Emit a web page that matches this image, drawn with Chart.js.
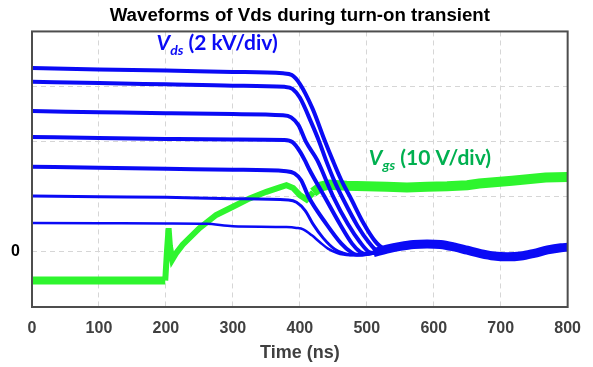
<!DOCTYPE html>
<html>
<head>
<meta charset="utf-8">
<script src="https://cdn.jsdelivr.net/npm/chart.js@4.4.1/dist/chart.umd.min.js"></script>
<style>
  html, body { margin: 0; padding: 0; background: #fff; }
  #wrap { width: 593px; height: 367px; }
</style>
</head>
<body>
<div id="wrap"><canvas id="chart" width="593" height="367"></canvas></div>
<script>
// time in ns, Vds in kV (2 kV/div), Vgs in V (10 V/div)
const vds1 = [[0, 6.67], [100, 6.62], [200, 6.58], [300, 6.53], [375, 6.48], [388, 6.42], [400, 6.1], [419, 5.2], [437, 4.05], [449, 3.33], [462, 2.6], [475, 2.0], [496, 1.0], [512, 0.4], [525, 0.12], [535, 0.08]];
const vds2 = [[0, 6.17], [100, 6.13], [200, 6.08], [300, 6.03], [377, 5.99], [389, 5.92], [400, 5.6], [417, 4.7], [429, 4.0], [439, 3.33], [452, 2.55], [465, 1.9], [486, 0.95], [503, 0.35], [515, 0.05], [525, 0.02]];
const vds3 = [[0, 5.11], [100, 5.07], [200, 5.03], [300, 5.0], [375, 4.96], [387, 4.88], [398, 4.6], [409, 4.0], [426, 3.33], [450, 2.0], [472, 1.0], [490, 0.35], [503, 0.0], [510, -0.04]];
const vds4 = [[0, 4.17], [100, 4.13], [200, 4.1], [300, 4.08], [377, 4.06], [389, 3.98], [400, 3.65], [408, 3.3], [414, 3.0], [437, 2.0], [460, 1.0], [478, 0.3], [490, 0.0], [498, -0.08]];
const vds5 = [[0, 3.09], [100, 3.05], [200, 3.02], [300, 2.98], [380, 2.93], [392, 2.85], [402, 2.6], [413, 2.0], [440, 1.0], [462, 0.3], [476, 0.0], [485, -0.1]];
const vds6 = [[0, 2.03], [100, 2.0], [200, 1.98], [300, 1.93], [383, 1.88], [395, 1.8], [408, 1.5], [420, 1.0], [435, 0.5], [452, 0.1], [465, -0.05], [475, -0.1]];
const vds7 = [[0, 1.05], [100, 1.04], [200, 1.03], [260, 1.02], [300, 0.93], [380, 0.9], [395, 0.87], [405, 0.82], [418, 0.6], [430, 0.35], [442, 0.12], [455, -0.03], [465, -0.1]];
const vdsTail = [[475, -0.12], [490, -0.1], [510, -0.03], [530, 0.1], [550, 0.2], [570, 0.27], [590, 0.29], [610, 0.27], [630, 0.18], [650, 0.06], [670, -0.06], [690, -0.15], [710, -0.18], [730, -0.15], [750, -0.05], [770, 0.07], [790, 0.15], [800, 0.17]];
const vgs = [[0, -5.2], [199, -5.2], [201.5, 0], [204, 4.3], [206, 1], [209.5, -1.4], [215, -0.3], [225, 1.3], [250, 4.3], [275, 6.7], [300, 8.2], [325, 9.7], [350, 10.9], [370, 11.7], [380, 12.1], [390, 11.6], [400, 10.3], [410, 9.5], [420, 10.8], [432, 11.9], [444, 12.2], [470, 12.0], [500, 11.9], [530, 11.8], [560, 11.7], [590, 11.8], [620, 11.9], [650, 12.1], [668, 12.4], [717, 12.9], [767, 13.5], [800, 13.6]];

const xTicks = [0, 100, 200, 300, 400, 500, 600, 700, 800];
const FONT = '"Liberation Sans", Arial, sans-serif';
const LABEL_FONT = 'Lato, "Open Sans", sans-serif';
const BLUE = '#0a0af5';
const GREEN = '#2ef52e';

function toXY(points) {
  return points.map(([x, y]) => ({ x, y }));
}

function withTail(points) {
  const last = points[points.length - 1][0];
  return toXY(points.concat(vdsTail.filter(p => p[0] > last)));
}

function vdsDataset(points, width) {
  return {
    data: withTail(points),
    yAxisID: 'y',
    borderColor: BLUE,
    borderWidth: width,
    pointRadius: 0,
    cubicInterpolationMode: 'monotone',
    order: 0
  };
}

// noisy gate trace looks thicker when flat
function vgsWidth(ctx) {
  const x = ctx.p0.parsed.x;
  if (x < 199) return 8;
  if (x < 420) return 6;
  return 10;
}

// chart frame on all four sides
const framePlugin = {
  id: 'frame',
  afterDraw(chart) {
    const { ctx, chartArea: a } = chart;
    ctx.save();
    ctx.strokeStyle = '#4d4d4d';
    ctx.lineWidth = 2;
    ctx.strokeRect(a.left, a.top, a.right - a.left, a.bottom - a.top);
    ctx.restore();
  }
};

function drawSubLabel(ctx, x, y, sub, rest, color) {
  ctx.fillStyle = color;
  ctx.textBaseline = 'alphabetic';
  ctx.textAlign = 'left';
  ctx.font = 'italic bold 21px ' + LABEL_FONT;
  ctx.fillText('V', x, y);
  let cx = x + ctx.measureText('V').width;
  ctx.font = 'italic bold 14px ' + LABEL_FONT;
  ctx.fillText(sub, cx, y + 5);
  cx += ctx.measureText(sub).width;
  ctx.font = 'bold 21px ' + LABEL_FONT;
  ctx.fillText(rest, cx, y);
}

const labelPlugin = {
  id: 'waveLabels',
  afterDraw(chart) {
    const { ctx, scales } = chart;
    ctx.save();
    drawSubLabel(ctx, scales.x.getPixelForValue(186), scales.y.getPixelForValue(7.32), 'ds', ' (2 kV/div)', BLUE);
    drawSubLabel(ctx, scales.x.getPixelForValue(503), scales.y.getPixelForValue(3.15), 'gs', ' (10 V/div)', '#00b050');
    ctx.restore();
  }
};

const gridColor = '#d6d6d6';
const tickFont = { family: FONT, size: 16, weight: 'bold' };

new Chart(document.getElementById('chart'), {
  type: 'line',
  data: {
    datasets: [
      { data: toXY(vgs), yAxisID: 'y2', borderColor: GREEN, borderWidth: 7, segment: { borderWidth: vgsWidth }, pointRadius: 0, order: 1 },
      { data: toXY(vdsTail.filter(p => p[0] >= 510)), yAxisID: 'y', borderColor: BLUE, borderWidth: 9, pointRadius: 0, cubicInterpolationMode: 'monotone', order: 0 },
      vdsDataset(vds1, 4),
      vdsDataset(vds2, 4),
      vdsDataset(vds3, 4),
      vdsDataset(vds4, 4),
      vdsDataset(vds5, 4),
      vdsDataset(vds6, 3),
      vdsDataset(vds7, 2.5)
    ]
  },
  options: {
    responsive: false,
    animation: false,
    events: [],
    layout: { padding: { left: 0, right: 22, top: 0, bottom: 0 } },
    plugins: {
      legend: { display: false },
      tooltip: { enabled: false },
      title: {
        display: true,
        fullSize: false,
        text: 'Waveforms of Vds during turn-on transient',
        color: '#000',
        font: { family: FONT, size: 18.7, weight: 'bold' },
        padding: { top: 5, bottom: 4 }
      }
    },
    scales: {
      x: {
        type: 'linear',
        min: 0,
        max: 800,
        afterBuildTicks: scale => { scale.ticks = xTicks.map(v => ({ value: v })); },
        ticks: { color: '#404040', font: tickFont, padding: 12, maxRotation: 0 },
        grid: { color: gridColor, drawTicks: false },
        border: { display: false, dash: [5, 4] },
        title: { display: true, text: 'Time (ns)', color: '#404040', font: { family: FONT, size: 18, weight: 'bold' }, padding: { top: 0, bottom: 3 } },
        afterFit: scale => { scale.height = 60; }
      },
      y: {
        min: -2,
        max: 8,
        ticks: { stepSize: 2, color: '#000', font: tickFont, padding: 12, callback: v => (v === 0 ? '0' : '') },
        grid: { color: gridColor, drawTicks: false },
        border: { display: false, dash: [5, 4] },
        afterFit: scale => { scale.width = 32; }
      },
      y2: { display: false, min: -10, max: 40 }
    }
  },
  plugins: [framePlugin, labelPlugin]
});
</script>
</body>
</html>
